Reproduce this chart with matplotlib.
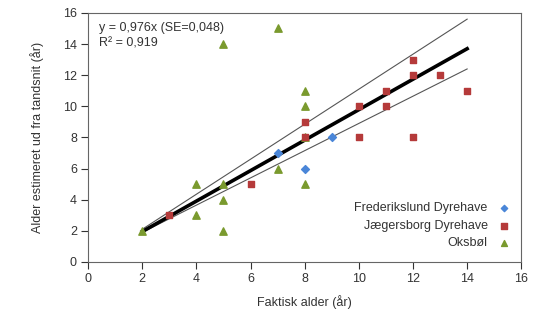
import matplotlib
matplotlib.use("Agg")
import matplotlib.pyplot as plt
import numpy as np

plt.rcParams['font.family'] = ['Liberation Sans', 'DejaVu Sans']

# Data
fred_x = [7, 8, 9]
fred_y = [7, 6, 8]
jaeg_x = [3, 6, 8, 8, 10, 10, 11, 11, 12, 12, 12, 13, 14]
jaeg_y = [3, 5, 9, 8, 10, 8, 11, 10, 13, 12, 8, 12, 11]
oks_x = [2, 4, 4, 5, 5, 5, 5, 7, 7, 8, 8, 8, 8]
oks_y = [2, 5, 3, 5, 4, 2, 14, 15, 6, 11, 10, 5, 8]

fit_x = [2, 14]
fit_y = [1.95, 13.7]
upper_x = [2, 14]
upper_y = [2.1, 15.6]
lower_x = [2, 14]
lower_y = [1.9, 12.4]

fig = plt.figure(figsize=(5.47, 3.23), dpi=100)
ax = fig.add_axes([0.161, 0.189, 0.792, 0.771])

ax.plot(upper_x, upper_y, color='#555555', lw=0.8, zorder=2)
ax.plot(lower_x, lower_y, color='#555555', lw=0.8, zorder=2)
ax.plot(fit_x, fit_y, color='black', lw=2.6, zorder=2)

ax.scatter(fred_x, fred_y, marker='D', s=16, color='#4a86d8', label='Frederikslund Dyrehave', zorder=5)
ax.scatter(jaeg_x, jaeg_y, marker='s', s=24, color='#b53a3a', label='Jægersborg Dyrehave', zorder=4)
ax.scatter(oks_x, oks_y, marker='^', s=28, color='#7a9a2e', label='Oksbøl', zorder=3)

ax.set_xlim(0, 16)
ax.set_ylim(0, 16)
ax.set_xticks(range(0, 17, 2))
ax.set_yticks(range(0, 17, 2))
ax.tick_params(direction='out', length=5, width=0.8, labelsize=9, colors='#333333', pad=3)
for s in ax.spines.values():
    s.set_color('#666666')
    s.set_linewidth(0.8)

ax.set_xlabel('Faktisk alder (år)', fontsize=9, color='#333333', labelpad=7)
ax.set_ylabel('Alder estimeret ud fra tandsnit (år)', fontsize=9, color='#333333', labelpad=14)

ax.text(0.025, 0.962, 'y = 0,976x (SE=0,048)\nR² = 0,919', transform=ax.transAxes,
        ha='left', va='top', fontsize=9, color='#333333', linespacing=1.3)

leg = ax.legend(loc='lower right', markerfirst=False, frameon=False, fontsize=9,
                handletextpad=0.8, labelspacing=0.45, bbox_to_anchor=(1.0, 0.005), handlelength=1.0,
                markerscale=0.8)
for t in leg.get_texts():
    t.set_color('#333333')

fig.savefig('out.png', dpi=100)
